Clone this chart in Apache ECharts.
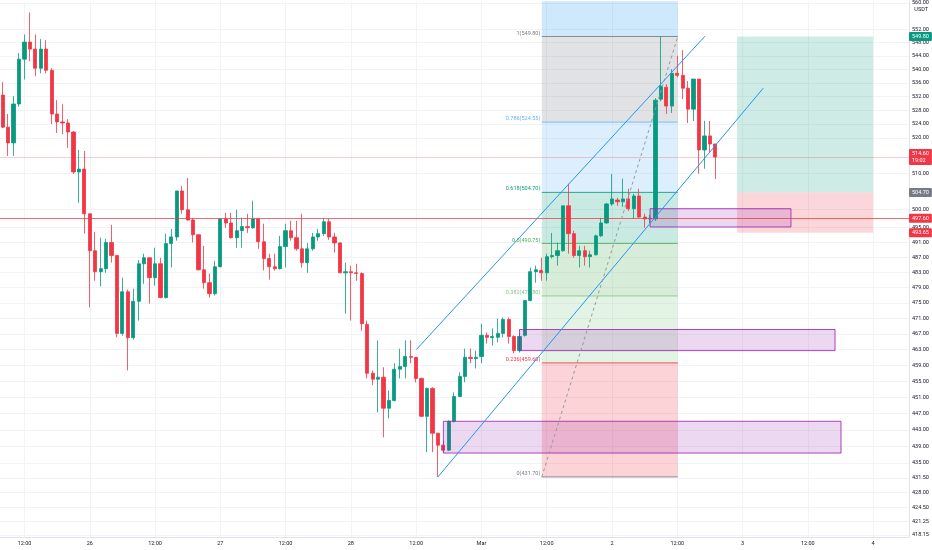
<!DOCTYPE html>
<html><head><meta charset="utf-8">
<script src="https://cdn.jsdelivr.net/npm/echarts@6/dist/echarts.min.js"></script>
<style>html,body{margin:0;padding:0;background:#fff}#c{width:932px;height:550px}</style>
</head><body><div id="c"></div><script>
// hourly candles, index 0 = Feb 25 08:00 ; [open, close, low, high]
const ohlc = [
[532.4,523.1,522.8,536.2],[523.1,518.6,514.9,526.9],[518.6,529.8,514.9,532.1],[529.8,543.0,529.0,544.8],
[543.0,548.1,537.0,550.4],[548.1,546.0,542.4,557.1],[546.0,540.3,537.9,550.4],[540.3,546.0,538.8,549.0],
[546.0,539.7,538.8,548.7],[539.7,526.9,524.0,540.3],[526.9,524.6,521.4,530.9],[524.6,524.3,521.1,529.7],
[524.3,521.7,517.2,525.4],[521.7,510.4,509.8,522.0],[510.4,511.2,501.8,516.6],[511.2,498.8,493.4,516.3],
[498.8,488.8,473.8,498.8],[488.8,483.2,480.8,493.9],[483.2,484.0,479.3,492.3],[484.0,491.0,482.9,492.0],
[491.0,487.5,485.6,495.8],[487.5,467.1,466.1,487.5],[467.1,477.9,466.5,481.6],[477.9,466.0,457.7,478.5],
[466.0,475.4,465.5,478.7],[475.4,485.3,470.4,486.3],[485.3,486.9,480.0,488.0],[486.9,481.6,474.8,486.9],
[481.6,485.3,479.5,489.6],[485.3,476.4,476.2,486.9],[476.4,490.7,476.1,493.4],[490.7,492.5,484.3,494.7],
[492.5,505.1,491.5,505.1],[505.1,499.9,498.8,506.5],[499.9,497.1,496.9,508.7],[497.1,493.1,491.0,497.7],
[493.1,483.7,483.5,493.1],[483.7,480.3,478.7,490.1],[480.3,477.4,476.4,482.7],[477.4,484.5,476.9,486.1],
[484.5,497.4,484.4,497.4],[497.4,496.3,495.0,499.1],[496.3,492.3,492.0,499.1],[492.3,494.2,489.6,499.9],
[494.2,495.3,489.6,497.7],[495.3,495.0,493.6,498.8],[495.0,497.4,494.7,502.4],[497.4,491.2,489.3,497.4],
[491.2,486.7,483.5,496.1],[486.7,484.5,481.1,488.0],[484.5,484.0,483.5,488.0],[484.0,489.9,483.8,492.8],
[489.9,494.2,484.3,496.1],[494.2,492.3,491.5,496.9],[492.3,489.3,488.8,496.9],[489.3,485.6,484.3,498.8],
[485.6,489.3,482.9,490.9],[489.3,492.5,488.8,493.6],[492.5,493.4,491.5,494.7],[493.4,496.6,492.8,497.4],
[496.6,492.5,491.7,497.4],[492.5,490.9,488.3,493.6],[490.9,482.9,482.8,491.0],[482.9,483.2,472.2,485.6],
[483.2,482.9,470.4,484.8],[482.9,482.7,480.8,485.3],[482.7,469.6,467.8,483.0],[469.4,457.0,455.7,470.4],
[457.0,455.5,454.0,457.7],[455.5,456.0,447.3,465.3],[456.0,448.3,441.2,458.5],[448.3,450.2,445.8,452.7],
[450.2,458.0,450.0,459.5],[458.0,458.7,455.7,463.2],[458.7,461.2,455.7,465.3],[461.2,461.0,459.5,465.3],
[461.0,455.7,454.7,461.0],[455.7,446.3,446.1,455.9],[446.3,453.2,437.6,453.4],[453.2,442.2,437.6,453.5],
[442.2,439.3,431.7,442.3],[439.3,438.1,437.4,440.5],[438.1,445.1,437.9,445.3],[445.1,451.2,444.8,452.2],
[451.2,456.2,451.0,457.2],[456.2,461.0,454.7,463.2],[461.0,460.7,459.5,463.2],[460.7,461.0,458.2,462.7],
[461.2,466.6,459.5,469.6],[466.6,466.1,464.5,467.3],[466.0,466.3,464.0,468.4],[466.1,467.1,464.8,470.9],
[467.1,470.7,466.1,471.2],[470.7,466.3,464.5,471.2],[466.3,462.7,462.0,466.6],[462.7,466.3,462.2,467.1],
[466.6,475.6,466.3,475.6],[475.6,483.2,475.4,484.3],[483.2,483.7,480.3,484.8],[483.5,482.9,480.8,486.9],
[482.9,487.2,480.8,488.0],[487.2,487.5,486.7,493.6],[487.5,488.8,484.8,491.0],[488.8,501.0,488.5,501.0],
[501.0,493.4,488.0,507.1],[493.4,487.5,486.9,494.2],[487.5,488.8,484.3,490.1],[488.8,487.2,484.8,490.1],
[487.2,487.7,484.3,488.8],[487.7,492.8,487.5,493.1],[492.8,496.3,492.5,497.7],[496.3,501.5,496.1,501.8],
[501.5,502.9,501.0,509.8],[502.6,502.1,501.0,503.2],[502.1,502.9,500.7,508.5],[502.9,500.2,499.6,505.7],
[500.2,503.7,497.4,504.3],[503.7,497.9,497.7,505.7],[497.9,497.4,495.0,498.8],[497.4,497.6,496.3,498.5],
[497.4,530.9,496.9,531.5],[531.2,535.0,530.6,549.8],[534.7,529.2,526.9,535.6],[529.2,538.8,527.2,540.0],
[538.8,538.2,537.6,544.0],[538.2,534.4,531.2,545.7],[534.4,528.3,524.3,536.5],[528.3,537.1,524.9,537.1],
[537.1,516.6,509.9,537.1],[516.6,520.6,511.3,524.9],[520.6,518.3,515.7,524.9],[518.3,514.6,508.4,518.3]
];

const xTickIndex = [4,16,28,40,52,64,76,88,100,112,124,136,148,160];
const xTickLabels = ['12:00','26','12:00','27','12:00','28','12:00','Mar','12:00','2','12:00','3','12:00','4'];
const yTickValues = [560,552,548,544,540,536,532,528,524,520,510,500,495,491,487,483,479,475,471,467,463,459,455,451,447,443,439,435,431.5,428,424.5,421.25,418.15];

const fibRange = [99.1, 124.1];
const fibLevels = [0, 0.236, 0.382, 0.5, 0.618, 0.786, 1, 1.618];
const fibPrices = [431.70, 459.60, 476.80, 490.75, 504.70, 524.55, 549.80, 622.80];
const fibColors = ['#787b86','#f23645','#81c784','#4caf50','#089981','#64b5f6','#787b86','#2196f3'];
const fibTrend = [[99.1, 431.70], [124.1, 549.80]];

const boxLeft = [119.0, 95.0, 81.0];
const boxRight = [144.9, 153.0, 154.1];
const boxTop = [500.2, 468.1, 445.1];
const boxBottom = [495.2, 462.7, 437.4];

const channelUpper = [[76.05, 463.0], [129.1, 549.9]];
const channelLower = [[80.0, 431.7], [139.8, 534.4]];

const positionX = [135.0, 160.0];
const positionPrices = [549.80, 504.70, 493.65]; // target, entry, stop
const lastPrice = 514.60;
const countdown = '19:02';
const alertPrice = 497.60;

const FONT = 'Roboto, "Liberation Sans", sans-serif';
const FS = 5.5;
const NONE = 'rgba(0,0,0,0)';

function rectBetween(api, x1, x2, p1, p2) {
  const a = api.coord([x1, p2]);
  const b = api.coord([x2, p1]);
  return {x: a[0], y: a[1], width: b[0] - a[0], height: b[1] - a[1]};
}

const candleData = ohlc.map((d, i) => [i, d[0], d[1], d[2], d[3]]);

const fibZoneData = fibPrices.slice(0, -1).map((p, i) => [fibRange[0], fibRange[1], p, fibPrices[i + 1], i + 1]);
const fibLineData = fibPrices.slice(0, -1).map((p, i) => [fibRange[0], fibRange[1], p, p, i]);
const boxData = boxLeft.map((l, i) => [l, boxRight[i], boxBottom[i], boxTop[i]]);
const posData = [
  [positionX[0], positionX[1], positionPrices[1], positionPrices[0], 0],
  [positionX[0], positionX[1], positionPrices[2], positionPrices[1], 1]
];
const posColors = ['rgba(8,153,129,0.2)', 'rgba(242,54,69,0.2)'];

const chart = echarts.init(document.getElementById('c'), null, {renderer: 'canvas'});
const option = {
  animation: false,
  backgroundColor: '#ffffff',
  textStyle: {fontFamily: FONT},
  grid: {left: -1, right: 23, top: 0, bottom: 13, containLabel: false},
  xAxis: {
    type: 'value', min: -0.5, max: 166.6,
    axisLine: {show: true, onZero: false, lineStyle: {color: '#e0e3eb'}},
    axisTick: {show: false, customValues: xTickIndex},
    splitLine: {show: true, lineStyle: {color: '#f2f3f6', width: 1}},
    axisLabel: {customValues: xTickIndex, fontSize: FS, color: '#131722', margin: 4, fontFamily: FONT,
      formatter: v => xTickLabels[xTickIndex.indexOf(Math.round(v))] || ''}
  },
  yAxis: {
    type: 'log', logBase: 10, min: 417.7, max: 560.5, position: 'right',
    axisLine: {show: true, onZero: false, lineStyle: {color: '#e0e3eb'}},
    axisTick: {show: false, customValues: yTickValues},
    splitLine: {show: true, lineStyle: {color: '#f2f3f6', width: 1}},
    axisLabel: {customValues: yTickValues, fontSize: FS, color: '#131722', margin: 3, fontFamily: FONT,
      formatter: v => Number(v).toFixed(2)}
  },
  graphic: [{type: 'text', right: 4, top: 7, z: 100, style: {text: 'USDT', fontSize: FS, fill: '#131722', fontFamily: FONT}}],
  series: [
    {
      type: 'custom', name: 'fibZones', clip: true, z: 1, silent: true,
      encode: {x: [0, 1], y: [2, 3]},
      data: fibZoneData,
      renderItem: (params, api) => {
        const c = fibColors[api.value(4)];
        return {type: 'rect', shape: rectBetween(api, api.value(0), api.value(1), api.value(2), api.value(3)),
          style: {fill: c, opacity: 0.22}};
      }
    },
    {
      type: 'custom', name: 'position', clip: true, z: 1, silent: true,
      encode: {x: [0, 1], y: [2, 3]},
      data: posData,
      renderItem: (params, api) => ({type: 'rect', shape: rectBetween(api, api.value(0), api.value(1), api.value(2), api.value(3)),
        style: {fill: posColors[api.value(4)]}})
    },
    {
      type: 'custom', name: 'fibLines', clip: false, z: 2, silent: true,
      encode: {x: [0, 1], y: [2, 3]},
      data: fibLineData,
      renderItem: (params, api) => {
        const i = api.value(4);
        const a = api.coord([api.value(0), api.value(2)]);
        const b = api.coord([api.value(1), api.value(2)]);
        return {type: 'group', children: [
          {type: 'line', shape: {x1: a[0], y1: a[1], x2: b[0], y2: b[1]}, style: {stroke: fibColors[i], lineWidth: 1, opacity: 0.85}},
          {type: 'text', x: a[0] - 1.5, y: a[1] - 0.3, style: {text: fibLevels[i] + '(' + fibPrices[i].toFixed(2) + ')',
            fill: fibColors[i], fontSize: FS, fontFamily: FONT, align: 'right', verticalAlign: 'bottom'}}
        ]};
      }
    },
    {
      type: 'candlestick', name: 'price', z: 3,
      encode: {x: 0, y: [1, 2, 3, 4]},
      data: candleData,
      barWidth: 3.7,
      itemStyle: {color: '#089981', color0: '#f23645', borderColor: '#089981', borderColor0: '#f23645', borderWidth: 0.8}
    },
    {
      type: 'custom', name: 'boxes', clip: true, z: 4, silent: true,
      encode: {x: [0, 1], y: [2, 3]},
      data: boxData,
      renderItem: (params, api) => ({type: 'rect', shape: rectBetween(api, api.value(0), api.value(1), api.value(2), api.value(3)),
        style: {fill: 'rgba(156,39,176,0.18)', stroke: 'rgba(156,39,176,0.85)', lineWidth: 1}})
    },
    {type: 'line', name: 'channelUpper', z: 5, data: channelUpper, symbol: 'none', silent: true,
      lineStyle: {color: '#2196f3', width: 1}},
    {type: 'line', name: 'channelLower', z: 5, data: channelLower, symbol: 'none', silent: true,
      lineStyle: {color: '#2196f3', width: 1}},
    {type: 'line', name: 'fibTrend', z: 5, data: fibTrend, symbol: 'none', silent: true,
      lineStyle: {color: '#9598a1', width: 1, type: [3, 3]}},
    {
      type: 'line', name: 'levels', z: 6, data: [[-1, 500]], symbol: 'none', silent: true, lineStyle: {color: NONE},
      markLine: {
        symbol: 'none', silent: true, animation: false, precision: 2,
        label: {show: true, position: 'end', distance: 0, fontSize: FS, color: '#ffffff', padding: [1.5, 3], borderRadius: 1, fontFamily: FONT},
        data: [
          {yAxis: lastPrice, lineStyle: {color: 'rgba(242,54,69,0.25)', width: 1, type: 'solid'},
            label: {formatter: lastPrice.toFixed(2) + '\n' + countdown, backgroundColor: '#f23645', lineHeight: 6.5}},
          {yAxis: positionPrices[0], lineStyle: {color: NONE, width: 0}, label: {formatter: positionPrices[0].toFixed(2), backgroundColor: '#089981'}},
          {yAxis: positionPrices[1], lineStyle: {color: NONE, width: 0}, label: {formatter: positionPrices[1].toFixed(2), backgroundColor: '#787b86'}},
          {yAxis: positionPrices[2], lineStyle: {color: NONE, width: 0}, label: {formatter: positionPrices[2].toFixed(2), backgroundColor: '#f23645'}},
          {yAxis: alertPrice, lineStyle: {color: 'rgba(242,54,69,0.75)', width: 1, type: 'solid'},
            label: {formatter: alertPrice.toFixed(2), backgroundColor: '#f23645'}}
        ]
      }
    }
  ]
};
chart.setOption(option);
</script></body></html>
